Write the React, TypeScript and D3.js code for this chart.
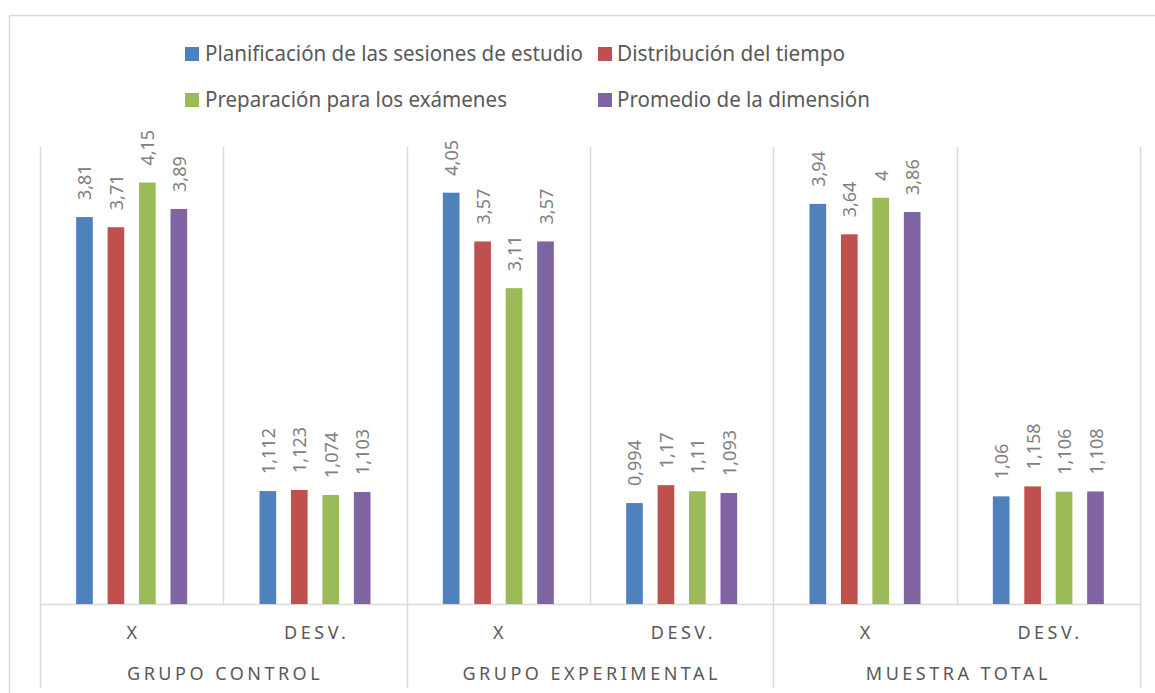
import React from "react";
import * as d3 from "d3";

const categories = ["X", "DESV.", "X", "DESV.", "X", "DESV."];
const groups = ["GRUPO CONTROL", "GRUPO EXPERIMENTAL", "MUESTRA TOTAL"];
const seriesNames = [
  "Planificación de las sesiones de estudio",
  "Distribución del tiempo",
  "Preparación para los exámenes",
  "Promedio de la dimensión",
];
const seriesColors = ["#4f81bd", "#c0504d", "#9bbb59", "#8064a2"];
const planificacion = [3.81, 1.112, 4.05, 0.994, 3.94, 1.06];
const distribucion = [3.71, 1.123, 3.57, 1.17, 3.64, 1.158];
const preparacion = [4.15, 1.074, 3.11, 1.11, 4, 1.106];
const promedio = [3.89, 1.103, 3.57, 1.093, 3.86, 1.108];
const seriesValues = [planificacion, distribucion, preparacion, promedio];

const W = 1155;
const H = 693;
const plotLeft = 40;
const plotRight = 1140;
const plotTop = 147;
const baseY = 604;
const FONT = "'Noto Sans', sans-serif";

export default function App() {
  const catIdx = categories.map((_, i) => String(i));
  const x0 = d3.scaleBand<string>().domain(catIdx).range([plotLeft, plotRight]).padding(0);
  const x1 = d3
    .scaleBand<string>()
    .domain(seriesNames.map((_, i) => String(i)))
    .range([0, x0.bandwidth()])
    .paddingInner(0.47)
    .paddingOuter(1.15);
  const y = d3.scaleLinear().domain([0, 4.5]).range([baseY, plotTop]);
  const fmt = (v: number) => String(v).replace(".", ",");
  const bw = x0.bandwidth();

  const legendPos = [
    { sx: 185, tx: 205, by: 61, len: 378 },
    { sx: 598, tx: 617, by: 61, len: 228 },
    { sx: 185, tx: 205, by: 107, len: 302 },
    { sx: 598, tx: 617, by: 107, len: 253 },
  ];

  return (
    <svg
      width={W}
      height={H}
      style={{ position: "absolute", left: 0, top: 0, background: "#fff" }}
      fontFamily={FONT}
    >
      <rect x={0} y={0} width={W} height={H} fill="#fff" />
      {/* outer chart border */}
      <line x1={9} x2={W} y1={15.5} y2={15.5} stroke="#d9d9d9" strokeWidth={1.5} />
      <line x1={9.5} x2={9.5} y1={15} y2={H} stroke="#d9d9d9" strokeWidth={1.5} />

      {/* legend */}
      {seriesNames.map((name, i) => (
        <g key={name}>
          <rect x={legendPos[i].sx} y={legendPos[i].by - 14} width={14} height={14} fill={seriesColors[i]} />
          <text
            x={legendPos[i].tx}
            y={legendPos[i].by}
            fontSize={21}
            fill="#595959"
            textLength={legendPos[i].len}
            lengthAdjust="spacingAndGlyphs"
          >
            {name}
          </text>
        </g>
      ))}

      {/* vertical gridlines between categories */}
      {d3.range(categories.length + 1).map((i) => {
        const xx = Math.round(plotLeft + i * bw) + 0.5;
        return <line key={"g" + i} x1={xx} x2={xx} y1={plotTop} y2={baseY} stroke="#d9d9d9" strokeWidth={1.5} />;
      })}
      {/* group separators in axis area */}
      {d3.range(groups.length + 1).map((i) => {
        const xx = Math.round(plotLeft + i * 2 * bw) + 0.5;
        return <line key={"s" + i} x1={xx} x2={xx} y1={baseY} y2={688} stroke="#d9d9d9" strokeWidth={1.5} />;
      })}
      <line x1={plotLeft} x2={plotRight} y1={baseY + 0.5} y2={baseY + 0.5} stroke="#d9d9d9" strokeWidth={1.5} />

      {/* bars */}
      {seriesValues.map((vals, s) =>
        vals.map((v, c) => {
          const bx = (x0(String(c)) as number) + (x1(String(s)) as number);
          const by = y(v);
          const cx = bx + x1.bandwidth() / 2;
          return (
            <g key={`b${s}-${c}`}>
              <rect x={bx} y={by} width={x1.bandwidth()} height={baseY - by} fill={seriesColors[s]} />
              <text
                transform={`translate(${cx},${by - 17}) rotate(-90)`}
                fontSize={18}
                fill="#808080"
                dominantBaseline="central"
                textAnchor="start"
              >
                {fmt(v)}
              </text>
            </g>
          );
        })
      )}

      {/* category labels */}
      {categories.map((c, i) => (
        <text
          key={"c" + i}
          x={(x0(String(i)) as number) + bw / 2 + 1.75}
          y={639}
          fontSize={18}
          fill="#595959"
          textAnchor="middle"
          letterSpacing={3.5}
        >
          {c}
        </text>
      ))}
      {groups.map((g, i) => (
        <text
          key={"gr" + i}
          x={plotLeft + (i * 2 + 1) * bw + 1.75}
          y={680}
          fontSize={18}
          fill="#595959"
          textAnchor="middle"
          letterSpacing={3.5}
        >
          {g}
        </text>
      ))}
    </svg>
  );
}
